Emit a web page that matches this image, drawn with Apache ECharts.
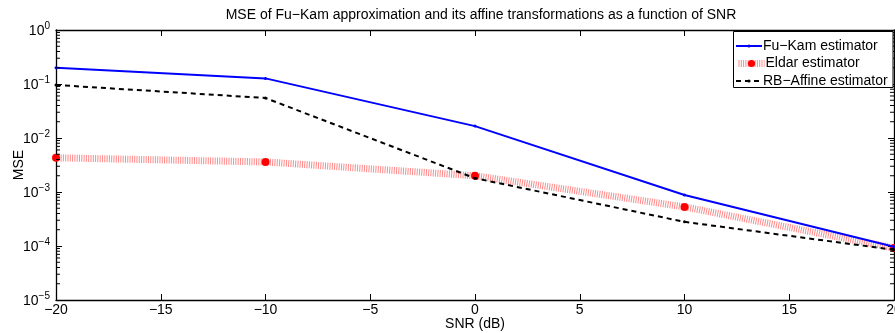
<!DOCTYPE html>
<html>
<head>
<meta charset="utf-8">
<script src="https://cdn.jsdelivr.net/npm/echarts@6/dist/echarts.min.js"></script>
<style>
html,body{margin:0;padding:0;background:#fff;}
#c{width:895px;height:333px;}
</style>
</head>
<body>
<div id="c"></div>
<script>
var snr = [-20, -10, 0, 10, 20];
var fuKam = [0.20, 0.127, 0.0166, 0.00088, 0.000097];
var eldar = [0.0043, 0.0036, 0.0020, 0.00053, 0.000092];
var rbAffine = [0.096, 0.055, 0.0018, 0.00028, 0.000085];
var xTicks = [-20, -15, -10, -5, 0, 5, 10, 15, 20];
var yTickExps = [0, -1, -2, -3, -4, -5];
var seriesNames = ['Fu\u2212Kam estimator', 'Eldar estimator', 'RB\u2212Affine estimator'];

var FONT = '"Liberation Sans", Arial, sans-serif';
function minus(s) { return String(s).replace('-', '\u2212'); }

// minor tick positions of the log axis (2..9 in each decade)
var minorVals = [];
for (var e = -5; e < 0; e++) {
  for (var m = 2; m <= 9; m++) minorVals.push(m * Math.pow(10, e));
}

function pairs(ys) { return snr.map(function (x, i) { return [x, ys[i]]; }); }

var eldarLine = { color: 'rgba(255,40,40,0.55)', width: 7, type: [1, 1.3] };

function legendFor(name, top, h, lineStyle) {
  return {
    data: [{ name: name, lineStyle: lineStyle }],
    orient: 'vertical', left: 735, top: top, z: 12,
    padding: 0, itemGap: 0, itemWidth: 26, itemHeight: h,
    textStyle: { fontFamily: FONT, fontSize: 14, color: '#000', padding: [0, 0, 0, -4] }
  };
}

var chart = echarts.init(document.getElementById('c'), null, { renderer: 'canvas' });
chart.setOption({
  animation: false,
  backgroundColor: '#fff',
  title: {
    text: 'MSE of Fu\u2212Kam approximation and its affine transformations as a function of SNR',
    left: 476, textAlign: 'center', top: 3,
    textStyle: { fontFamily: FONT, fontSize: 14, fontWeight: 'normal', color: '#000' }
  },
  grid: { left: 56, right: 1, top: 30, bottom: 33, containLabel: false, outerBoundsMode: 'none' },
  graphic: [{
    type: 'rect', z: 11, silent: true,
    shape: { x: 733.5, y: 31.5, width: 159.5, height: 56 },
    style: { fill: '#fff', stroke: '#000', lineWidth: 1 }
  }],
  legend: [
    legendFor(seriesNames[0], 39, 4, { color: '#0000ff', width: 2, type: 'solid' }),
    legendFor(seriesNames[1], 56.5, 9, eldarLine),
    legendFor(seriesNames[2], 74, 4, { color: '#000', width: 2, type: [5, 4] })
  ],
  xAxis: [{
    type: 'value', min: -20, max: 20, interval: 5,
    name: 'SNR (dB)', nameLocation: 'middle', nameGap: 17, nameMoveOverlap: false,
    nameTextStyle: { fontFamily: FONT, fontSize: 14, color: '#000' },
    axisLine: { show: true, onZero: false, lineStyle: { color: '#000', width: 1.3 } },
    axisTick: { show: true, inside: true, length: 6, lineStyle: { color: '#000' } },
    axisLabel: { fontFamily: FONT, fontSize: 14, color: '#000', margin: 3, formatter: function (v) { return minus(v); } },
    splitLine: { show: false }
  }, {
    type: 'value', min: -20, max: 20, interval: 5, position: 'top',
    axisLine: { show: true, onZero: false, lineStyle: { color: '#000', width: 1.3 } },
    axisTick: { show: true, inside: true, length: 6, lineStyle: { color: '#000' } },
    axisLabel: { show: false }, splitLine: { show: false }
  }],
  yAxis: [{
    type: 'log', logBase: 10, min: 1e-5, max: 1,
    name: 'MSE', nameLocation: 'middle', nameGap: 30, nameRotate: 90, nameMoveOverlap: false,
    nameTextStyle: { fontFamily: FONT, fontSize: 14, color: '#000' },
    axisLine: { show: true, onZero: false, lineStyle: { color: '#000', width: 1.3 } },
    axisTick: { show: true, inside: true, length: 6, lineStyle: { color: '#000' } },
    axisLabel: {
      margin: 6, color: '#000',
      formatter: function (v) {
        var ex = Math.round(Math.log10(v));
        if (yTickExps.indexOf(ex) < 0) return '';
        return '{b|10}{s|' + minus(ex) + '}';
      },
      rich: {
        b: { fontFamily: FONT, fontSize: 14, color: '#000', padding: [3, 0, 0, 0] },
        s: { fontFamily: FONT, fontSize: 10, color: '#000', verticalAlign: 'top', padding: [0, 0, 8, 0] }
      }
    },
    splitLine: { show: false }
  }, {
    type: 'log', logBase: 10, min: 1e-5, max: 1, position: 'right',
    axisLine: { show: true, onZero: false, lineStyle: { color: '#000', width: 1.3 } },
    axisTick: { show: true, inside: true, length: 6, lineStyle: { color: '#000' } },
    axisLabel: { show: false }, splitLine: { show: false }
  }],
  series: [{
    name: seriesNames[0], type: 'line', data: pairs(fuKam),
    color: '#0000ff',
    lineStyle: { color: '#0000ff', width: 2 },
    symbol: 'circle', symbolSize: 3,
    itemStyle: { color: '#0000ff' }, z: 4
  }, {
    name: seriesNames[1], type: 'line', data: pairs(eldar),
    color: '#ff0000',
    lineStyle: eldarLine,
    symbol: 'circle', symbolSize: 8,
    itemStyle: { color: '#ff0000' }, z: 3
  }, {
    name: seriesNames[2], type: 'line', data: pairs(rbAffine),
    color: '#000',
    lineStyle: { color: '#000', width: 2, type: [5, 4] },
    symbol: 'circle', symbolSize: 3,
    itemStyle: { color: '#000' }, z: 5
  }, {
    type: 'custom', silent: true, z: 6,
    data: minorVals.map(function (v) { return [-20, v]; }),
    renderItem: function (params, api) {
      var l = api.coord([-20, api.value(1)]);
      var r = api.coord([20, api.value(1)]);
      var st = { stroke: '#000', lineWidth: 1 };
      return {
        type: 'group', children: [
          { type: 'line', shape: { x1: l[0], y1: l[1], x2: l[0] + 4, y2: l[1] }, style: st },
          { type: 'line', shape: { x1: r[0], y1: r[1], x2: r[0] - 4, y2: r[1] }, style: st }
        ]
      };
    }
  }]
});
</script>
</body>
</html>
